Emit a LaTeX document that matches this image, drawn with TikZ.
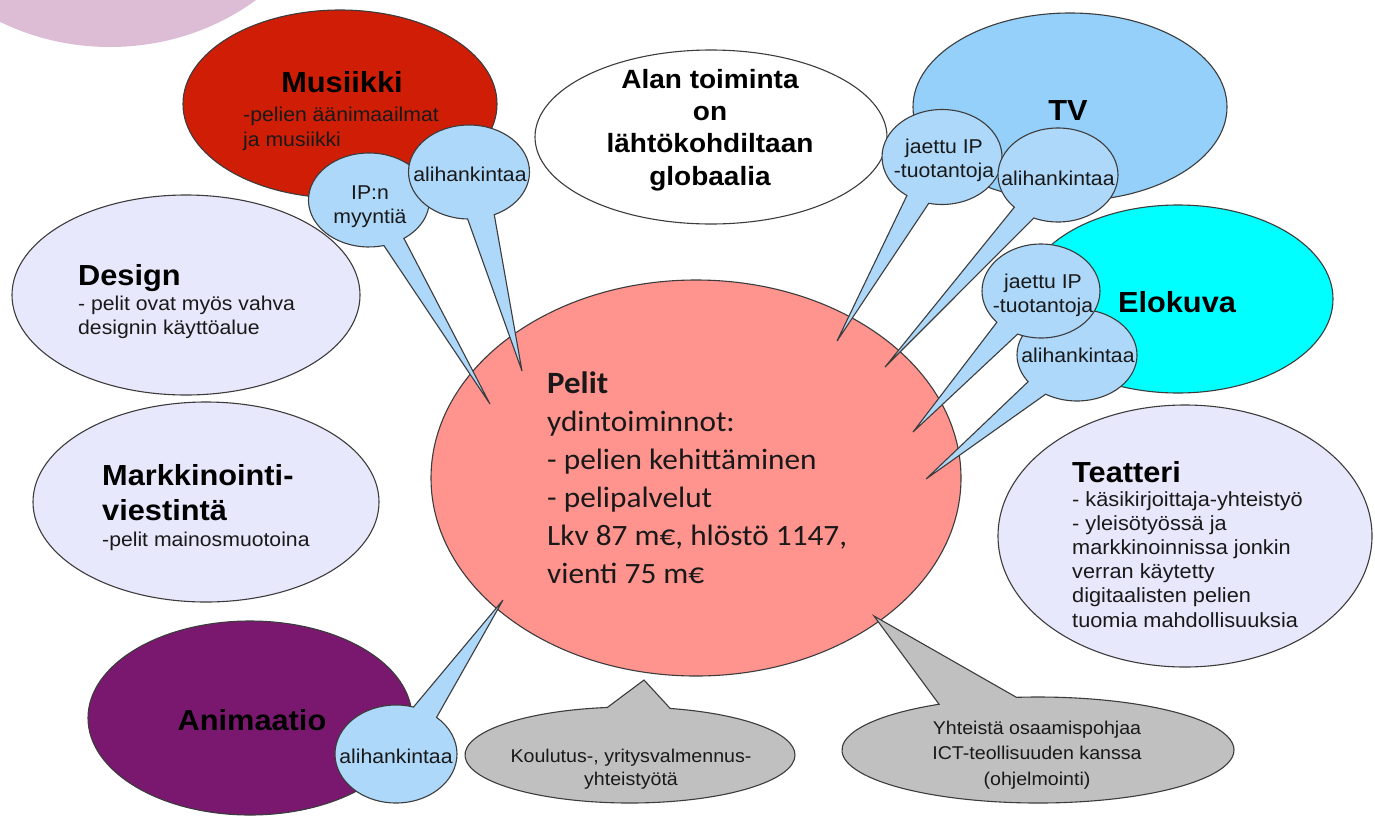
\documentclass[tikz,border=0pt]{standalone}
\usepackage{fontspec}
\setmainfont{Liberation Sans}[FakeStretch=1.06]
\newfontfamily\calfont{Carlito}[FakeStretch=1.06]
\usetikzlibrary{shapes.geometric,shapes.callouts}
\definecolor{blob}{RGB}{221,188,214}
\definecolor{edge}{RGB}{60,60,60}
\definecolor{musred}{RGB}{207,30,5}
\definecolor{lav}{RGB}{232,232,252}
\definecolor{tvblue}{RGB}{148,208,250}
\definecolor{cyanfill}{RGB}{0,255,255}
\definecolor{pelit}{RGB}{255,148,142}
\definecolor{anim}{RGB}{122,24,112}
\definecolor{cob}{RGB}{173,216,250}
\definecolor{cog}{RGB}{192,192,192}
\definecolor{txt}{RGB}{25,25,25}
\begin{document}
\begin{tikzpicture}[x=1pt,y=-1pt,
  bub/.style={ellipse, draw=edge, line width=1.1pt, inner sep=0pt, outer sep=0pt},
  co/.style={ellipse callout, draw=edge, line width=1.1pt, inner sep=0pt, outer sep=0pt, callout pointer arc=23},
  blueco/.style={co, fill=cob, minimum width=121pt, minimum height=94pt},
  ttl/.style={inner sep=0pt, text=black, font=\bfseries\fontsize{29}{35}\selectfont},
  subt/.style={inner sep=0pt, text=txt, align=left, font=\fontsize{20}{24.5}\selectfont},
  cot/.style={inner sep=0pt, text=txt, align=center, font=\fontsize{20}{24}\selectfont},
  grt/.style={inner sep=0pt, text=txt, align=center, font=\fontsize{18.5}{24}\selectfont}]
\useasboundingbox (0,0) rectangle (1375,817);
\fill[white] (0,0) rectangle (1375,817);

% background blob
\node[ellipse, fill=blob, inner sep=0pt, minimum width=470pt, minimum height=434pt] (blob) at (110,-170) {};

% main ellipses
\node[bub, fill=musred, minimum width=314pt, minimum height=188pt] (mus) at (340,104) {};
\node[bub, fill=lav, minimum width=348pt, minimum height=200pt] (des) at (186,295) {};
\node[bub, fill=lav, minimum width=346pt, minimum height=200pt] (mark) at (206,502) {};
\node[bub, fill=white, minimum width=352pt, minimum height=174pt] (alan) at (711,137) {};
\node[bub, fill=tvblue, minimum width=314pt, minimum height=188pt] (tv) at (1070,107) {};
\node[bub, fill=cyanfill, minimum width=310pt, minimum height=188pt] (elo) at (1178,299) {};
\node[bub, fill=lav, minimum width=374pt, minimum height=262pt] (tea) at (1185,536) {};
\node[bub, fill=anim, minimum width=324pt, minimum height=194pt] (ani) at (250,718) {};
\node[bub, fill=pelit, minimum width=530pt, minimum height=396pt] (pel) at (696,478) {};

% texts of main ellipses (anchor base = baseline of the last line)
\node[ttl, anchor=base] (musT) at (342,92) {Musiikki};
\node[subt, anchor=base west, font=\fontsize{20}{25}\selectfont] (musS) at (243,146) {-pelien äänimaailmat\\ja musiikki};
\node[ttl, anchor=base west] (desT) at (78,285) {Design};
\node[subt, anchor=base west, font=\fontsize{20}{24}\selectfont] (desS) at (78,334) {- pelit ovat myös vahva\\designin käyttöalue};
\node[ttl, anchor=base west, align=left] (markT) at (102,520) {Markkinointi-\\viestintä};
\node[subt, anchor=base west] (markS) at (102,546) {-pelit mainosmuotoina};
\node[inner sep=0pt, text=black, align=center, anchor=base, font=\bfseries\fontsize{26.4}{32.3}\selectfont] (alanT) at (710,185) {Alan toiminta\\on\\lähtökohdiltaan\\globaalia};
\node[ttl, anchor=base] (tvT) at (1068,120) {TV};
\node[ttl, anchor=base] (eloT) at (1177,312) {Elokuva};
\node[ttl, anchor=base west] (teaT) at (1072,482) {Teatteri};
\node[subt, anchor=base west, font=\fontsize{20.5}{24.2}\selectfont] (teaS) at (1072,627) {- käsikirjoittaja-yhteistyö\\- yleisötyössä ja\\markkinoinnissa jonkin\\verran käytetty\\digitaalisten pelien\\tuomia mahdollisuuksia};
\node[inner sep=0pt, text=txt, align=left, anchor=base west, font=\calfont\fontsize{29.5}{38}\selectfont] (pelT) at (547,583) {{\fontsize{31}{38}\selectfont\textbf{Pelit}}\\ydintoiminnot:\\- pelien kehittäminen\\- pelipalvelut\\Lkv 87 m€, hlöstö 1147,\\vienti 75 m€};
\node[ttl, anchor=base] (aniT) at (252,730) {Animaatio};

% pointer tips
\coordinate (tipIP) at (490,404);
\coordinate (tipMA) at (522,371);
\coordinate (tipTJ) at (837,341);
\coordinate (tipTA) at (885,367);
\coordinate (tipEJ) at (913,432);
\coordinate (tipEA) at (926,479);
\coordinate (tipAA) at (503,600);
\coordinate (tipKO) at (644,680);
\coordinate (tipICT) at (874,616);

% callouts
\node[blueco, callout pointer arc=21, callout absolute pointer={(tipIP)}] (ipm) at (369,200) {};
\node[cot, anchor=base] (ipmT) at (370,223) {IP:n\\myyntiä};
\node[blueco, callout pointer arc=26, callout absolute pointer={(tipMA)}] (musali) at (469,172) {};
\node[cot, anchor=base] (musaliT) at (470,181) {alihankintaa};

\node[blueco, minimum width=120pt, minimum height=95pt, callout absolute pointer={(tipTJ)}] (tvjip) at (942,157) {};
\node[cot, anchor=base] (tvjipT) at (944,177) {jaettu IP\\-tuotantoja};
\node[blueco, minimum width=120pt, callout absolute pointer={(tipTA)}] (tvali) at (1058,175) {};
\node[cot, anchor=base] (tvaliT) at (1058,185) {alihankintaa};

\node[blueco, minimum width=120pt, minimum height=92pt, callout absolute pointer={(tipEA)}] (eloali) at (1077,355) {};
\node[cot, anchor=base] (eloaliT) at (1078,362) {alihankintaa};
\node[blueco, minimum width=118pt, callout pointer arc=25, callout absolute pointer={(tipEJ)}] (elojip) at (1041,291) {};
\node[cot, anchor=base] (elojipT) at (1043,312) {jaettu IP\\-tuotantoja};

\node[blueco, minimum width=122pt, minimum height=98pt, callout pointer arc=25, callout absolute pointer={(tipAA)}] (aniali) at (396,754) {};
\node[cot, anchor=base] (anialiT) at (396,763) {alihankintaa};

\node[co, fill=cog, minimum width=330pt, minimum height=96pt, callout pointer arc=22, callout absolute pointer={(tipKO)}] (kou) at (630,755) {};
\node[grt, anchor=base, font=\fontsize{18.5}{23}\selectfont] (kouT) at (631,785) {Koulutus-, yritysvalmennus-\\yhteistyötä};
\node[co, fill=cog, minimum width=392pt, minimum height=106pt, callout pointer arc=24, callout absolute pointer={(tipICT)}] (ict) at (1038,750) {};
\node[grt, anchor=base, font=\fontsize{18.5}{25.5}\selectfont] (ictT) at (1037,785) {Yhteistä osaamispohjaa\\ICT-teollisuuden kanssa\\(ohjelmointi)};
\end{tikzpicture}
\end{document}
